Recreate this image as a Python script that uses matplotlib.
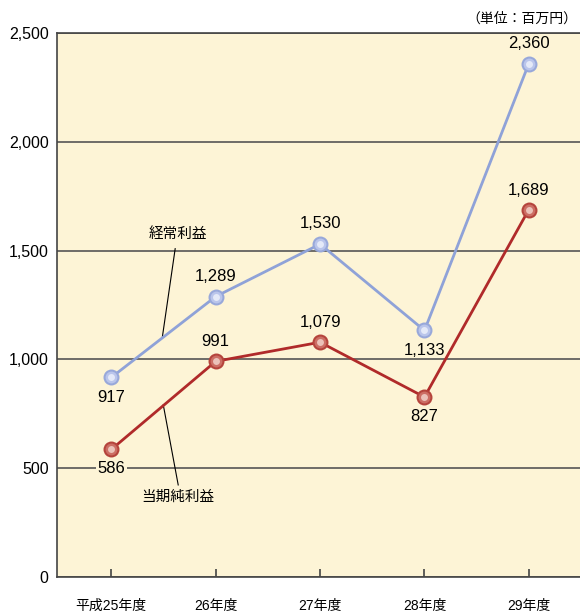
"""Recreates the ordinary profit / net income line chart."""

import matplotlib
matplotlib.use("Agg")
import matplotlib.pyplot as plt

plt.rcParams['font.family'] = ['Liberation Sans', 'Noto Sans CJK JP']

years = ["平成25年度", "26年度", "27年度", "28年度", "29年度"]
ordinary_profit = [917, 1289, 1530, 1133, 2360]
net_income = [586, 991, 1079, 827, 1689]

# label placement: +1 above the point, -1 below
ordinary_side = [-1, 1, 1, -1, 1]
net_side = [-1, 1, 1, -1, 1]

yticks = [0, 500, 1000, 1500, 2000, 2500]

bg = "#fdf4d6"
blue_line = "#8fa2d8"
red_line = "#b02a2a"

fig = plt.figure(figsize=(5.8, 6.12), dpi=100)
ax = fig.add_axes([0.0983, 0.0572, 0.9017, 0.8888])
ax.set_facecolor(bg)

x = list(range(len(years)))


def sphere(xs, ys, edge, mid, light, line):
    ax.plot(xs, ys, color=line, lw=2, zorder=3)
    ax.plot(xs, ys, 'o', ms=11.5, mfc=edge, mec="none", zorder=4)
    ax.plot(xs, ys, 'o', ms=8.5, mfc=mid, mec="none", zorder=5)
    ax.plot(xs, ys, 'o', ms=5, mfc=light, mec="none", zorder=6)


sphere(x, ordinary_profit, "#98a8da", "#bac5eb", "#e4e9f8", blue_line)
sphere(x, net_income, "#b5443c", "#cc6e64", "#ebc2b9", red_line)

for xi, v, s in zip(x, ordinary_profit, ordinary_side):
    ax.annotate(f"{v:,}", (xi, v), xytext=(0, 14.5 * s), textcoords="offset points",
                ha="center", va="center", fontsize=12, zorder=7)
for xi, v, s in zip(x, net_income, net_side):
    ax.annotate(f"{v:,}", (xi, v), xytext=(0, 14 * s), textcoords="offset points",
                ha="center", va="center", fontsize=12, zorder=7,
                bbox=dict(boxstyle="square,pad=0.1", fc=bg, ec="none"))

# series labels with leader lines
ax.plot([0.612, 0.488], [1509, 1099], color="black", lw=0.8, zorder=2)
ax.text(0.641, 1578, "経常利益", ha="center", va="center", fontsize=10.5)
ax.plot([0.498, 0.641], [791, 423], color="black", lw=0.8, zorder=2)
ax.text(0.641, 368, "当期純利益", ha="center", va="center", fontsize=10.5)

ax.set_xlim(-0.52, 4.49)
ax.set_ylim(0, 2500)
ax.set_yticks(yticks)
ax.set_yticklabels([f"{t:,}" for t in yticks], fontsize=11.5)
ax.yaxis.grid(True, color="#555555", lw=1.2)
ax.set_axisbelow(True)
ax.tick_params(axis="y", length=0, pad=6)

ax.set_xticks(x)
ax.set_xticklabels(years, fontsize=10)
ax.tick_params(axis="x", direction="in", length=6, width=1.2, color="#444444", pad=16)

for side in ["right"]:
    ax.spines[side].set_visible(False)
for side in ["left", "bottom", "top"]:
    ax.spines[side].set_color("#444444")
    ax.spines[side].set_linewidth(1.2)

fig.text(0.995, 0.97, "（単位：百万円）", ha="right", va="center", fontsize=10)

fig.savefig("out.png", dpi=100)
